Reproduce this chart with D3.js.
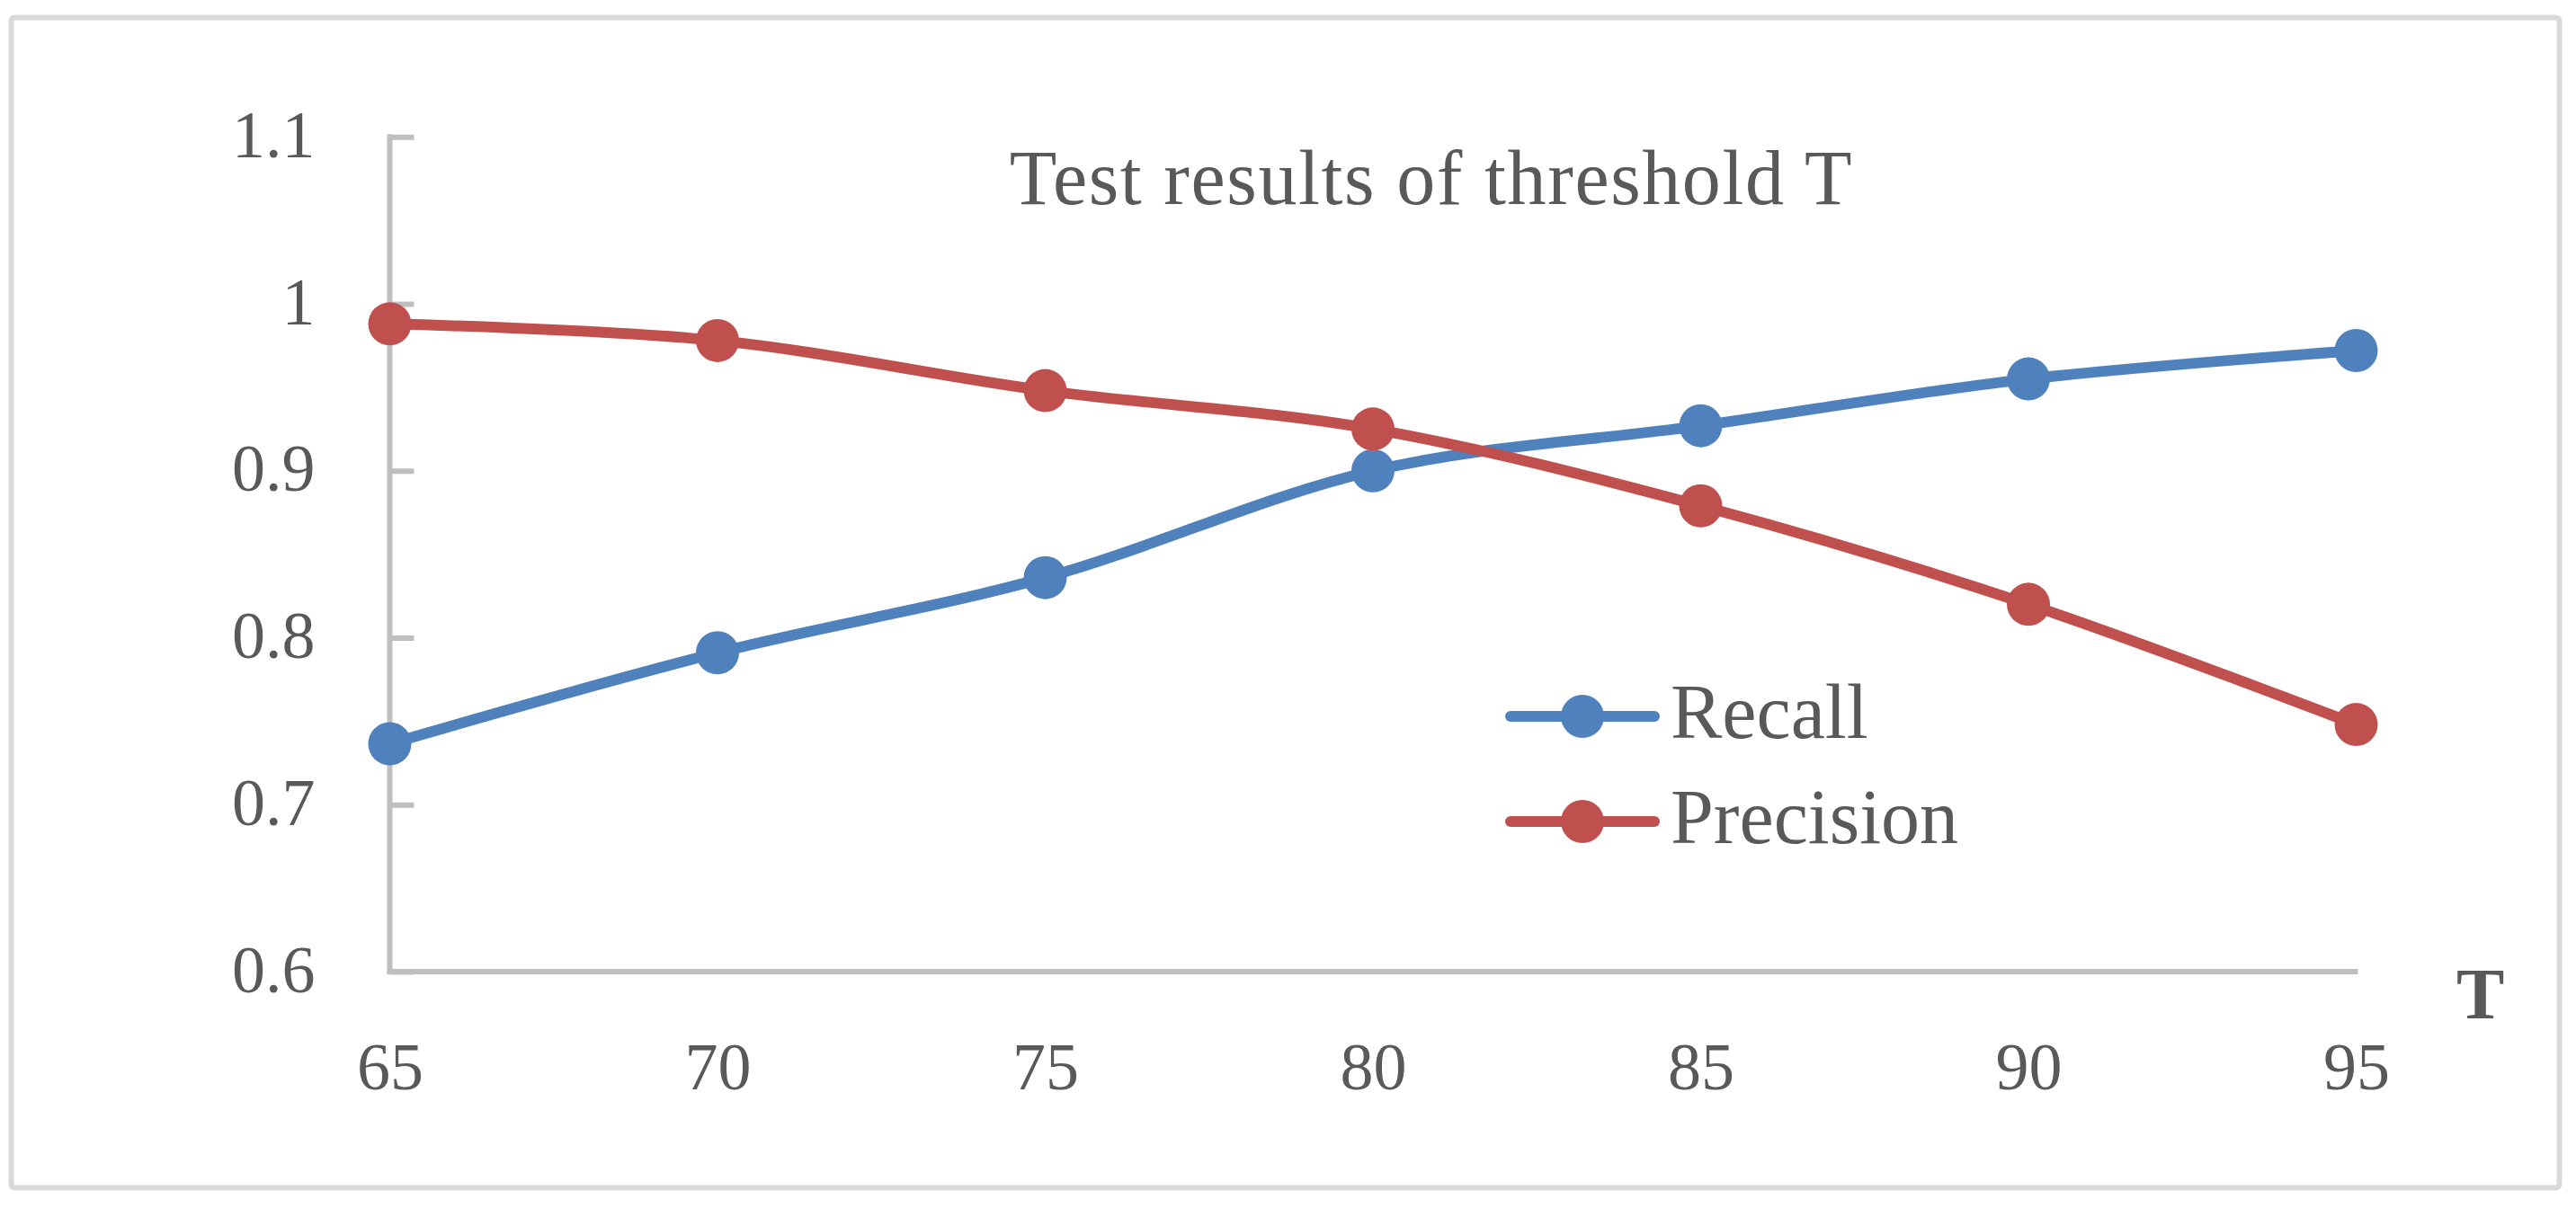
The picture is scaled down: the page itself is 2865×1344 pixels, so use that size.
<!DOCTYPE html>
<html>
<head>
<meta charset="utf-8">
<script src="https://cdn.jsdelivr.net/npm/d3@7"></script>
<style>
  html, body { margin: 0; padding: 0; background: #ffffff; }
  svg { display: block; }
  text { font-family: "Liberation Serif", "Times New Roman", serif; fill: #595959; }
</style>
</head>
<body>
<svg id="chart" width="2865" height="1344"></svg>
<script>
// ---- data ----
const thresholds = [65, 70, 75, 80, 85, 90, 95];
const recall = [0.7365, 0.791, 0.836, 0.900, 0.927, 0.955, 0.972];
const precision = [0.988, 0.978, 0.948, 0.925, 0.879, 0.820, 0.748];
const yTickValues = [0.6, 0.7, 0.8, 0.9, 1.0, 1.1];
const yTickLabels = ["0.6", "0.7", "0.8", "0.9", "1", "1.1"];
const xTickLabels = ["65", "70", "75", "80", "85", "90", "95"];
const seriesNames = ["Recall", "Precision"];
const seriesColors = ["#4F81BD", "#C0504D"];
const chartTitle = "Test results of threshold T";
const xAxisTitle = "T";

const svg = d3.select("#chart");

// outer border
svg.append("rect")
  .attr("x", 12.5).attr("y", 19.5)
  .attr("width", 2834).attr("height", 1302)
  .attr("rx", 4)
  .attr("fill", "#ffffff")
  .attr("stroke", "#D9D9D9")
  .attr("stroke-width", 6);

const x = d3.scaleLinear().domain([65, 95]).range([433.5, 2620.5]);
const y = d3.scaleLinear().domain([0.6, 1.1]).range([1081, 152.3]);

// y axis
const yAxis = d3.axisLeft(y)
  .tickValues(yTickValues)
  .tickFormat((d, i) => yTickLabels[i])
  .tickSizeInner(-27)
  .tickSizeOuter(0)
  .tickPadding(83);
const gy = svg.append("g").attr("transform", "translate(433.5,0)").call(yAxis);
gy.select(".domain").attr("stroke", "#BFBFBF").attr("stroke-width", 6)
  .attr("d", `M0,${y(1.1) - 3}V${y(0.6) + 3}`);
gy.selectAll(".tick line").attr("stroke", "#BFBFBF").attr("stroke-width", 6);
gy.selectAll(".tick text")
  .attr("dy", null).attr("y", 22)
  .attr("fill", "#595959")
  .style("font-family", "'Liberation Serif', serif")
  .style("font-size", "74px");

// x axis
const xAxis = d3.axisBottom(x)
  .tickValues(thresholds)
  .tickFormat((d, i) => xTickLabels[i])
  .tickSize(0)
  .tickPadding(0);
const gx = svg.append("g").attr("transform", "translate(0,1081)").call(xAxis);
gx.select(".domain").attr("stroke", "#BFBFBF").attr("stroke-width", 6)
  .attr("d", `M${x(65) - 3},0H${x(95) + 2}`);
gx.selectAll(".tick text")
  .attr("dy", null).attr("y", 131)
  .attr("fill", "#595959")
  .style("font-family", "'Liberation Serif', serif")
  .style("font-size", "74px");

// title
svg.append("text")
  .attr("x", 1592).attr("y", 227)
  .attr("text-anchor", "middle")
  .style("font-size", "86px")
  .style("letter-spacing", "1.6px")
  .text(chartTitle);

// axis title T
svg.append("text")
  .attr("x", 2732).attr("y", 1133)
  .style("font-size", "80px")
  .style("font-weight", "bold")
  .text(xAxisTitle);

// series
const line = d3.line()
  .x(d => x(d[0]))
  .y(d => y(d[1]))
  .curve(d3.curveCatmullRom.alpha(0));

const allSeries = [recall, precision];
allSeries.forEach((vals, si) => {
  const pts = thresholds.map((t, i) => [t, vals[i]]);
  const g = svg.append("g");
  g.append("path")
    .datum(pts)
    .attr("d", line)
    .attr("fill", "none")
    .attr("stroke", seriesColors[si])
    .attr("stroke-width", 12)
    .attr("stroke-linecap", "round")
    .attr("stroke-linejoin", "round");
  g.selectAll("circle")
    .data(pts)
    .join("circle")
    .attr("cx", d => x(d[0]))
    .attr("cy", d => y(d[1]))
    .attr("r", 24)
    .attr("fill", seriesColors[si]);
});

// legend
const legendY = [797, 914];
seriesNames.forEach((name, i) => {
  const g = svg.append("g");
  g.append("line")
    .attr("x1", 1680).attr("x2", 1840)
    .attr("y1", legendY[i]).attr("y2", legendY[i])
    .attr("stroke", seriesColors[i])
    .attr("stroke-width", 12)
    .attr("stroke-linecap", "round");
  g.append("circle")
    .attr("cx", 1760).attr("cy", legendY[i])
    .attr("r", 24)
    .attr("fill", seriesColors[i]);
  g.append("text")
    .attr("x", 1858).attr("y", legendY[i] + 24)
    .style("font-size", "86px")
    .text(name);
});
</script>
</body>
</html>
